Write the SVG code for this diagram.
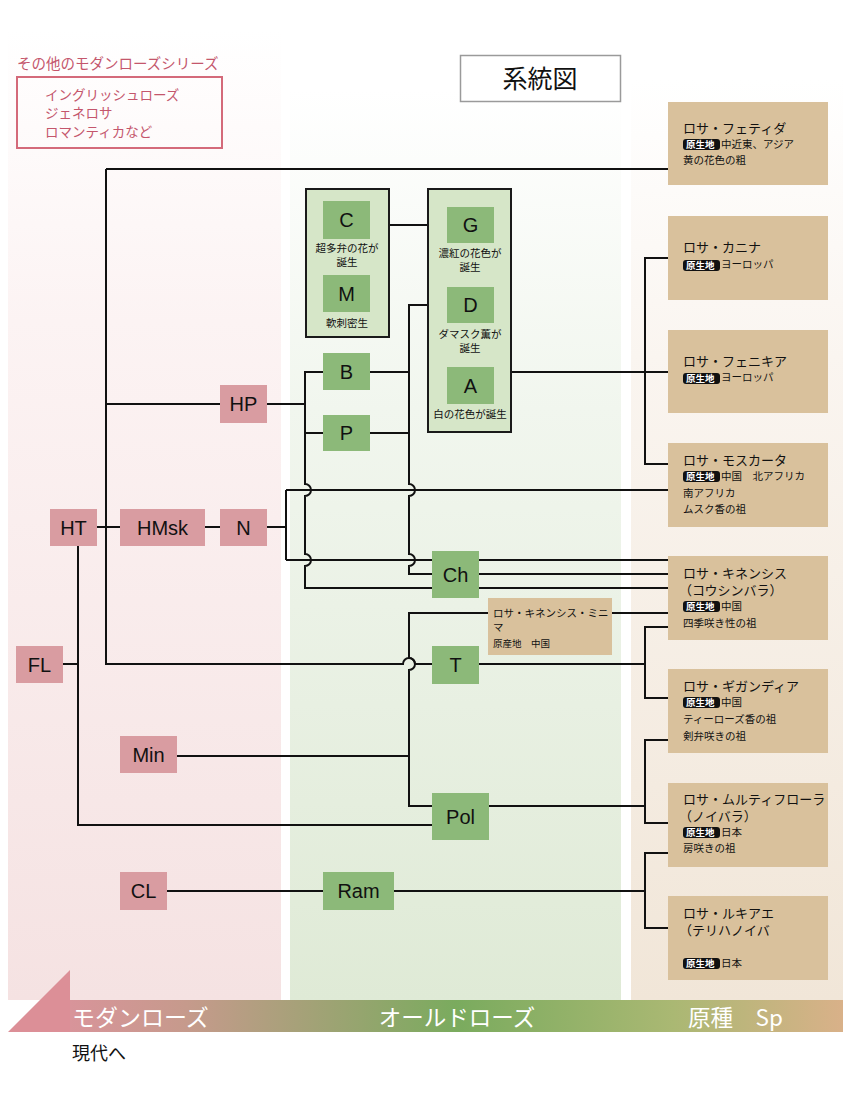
<svg xmlns="http://www.w3.org/2000/svg" width="850" height="1100" viewBox="0 0 850 1100">
<defs>
<linearGradient id="gPink" x1="0" y1="0" x2="0" y2="1"><stop offset="0" stop-color="#ffffff"/><stop offset="0.3" stop-color="#fcf3f3"/><stop offset="1" stop-color="#f5e2e2"/></linearGradient>
<linearGradient id="gGreen" x1="0" y1="0" x2="0" y2="1"><stop offset="0" stop-color="#ffffff"/><stop offset="0.35" stop-color="#f1f6ee"/><stop offset="1" stop-color="#dfead6"/></linearGradient>
<linearGradient id="gBeige" x1="0" y1="0" x2="0" y2="1"><stop offset="0" stop-color="#ffffff"/><stop offset="0.3" stop-color="#faf5f0"/><stop offset="1" stop-color="#f1e6d8"/></linearGradient>
<linearGradient id="gBand" x1="0" y1="0" x2="1" y2="0"><stop offset="0" stop-color="#d8949a"/><stop offset="0.15" stop-color="#c69a8c"/><stop offset="0.5" stop-color="#7aab5e"/><stop offset="0.78" stop-color="#aab873"/><stop offset="1" stop-color="#d9b189"/></linearGradient>
<style>
.t{font-family:"Liberation Sans","Noto Sans CJK JP",sans-serif}
.j{font-family:"Noto Sans CJK JP","Liberation Sans",sans-serif}
.pk{fill:#d99ca1}
.gr{fill:#8cb979}
.grp{fill:#d6e6c8;stroke:#1a1a1a;stroke-width:2}
.tan{fill:#d9c19c}
.lbl{font-size:20px;fill:#111;text-anchor:middle}
.cap{font-size:10.5px;fill:#111;text-anchor:middle}
.ttl{font-size:13px;fill:#111}
.sm{font-size:10.5px;fill:#111}
.badge{fill:#111}
.bt{font-size:9.5px;fill:#fff;font-weight:bold}
.ln{fill:none;stroke:#111;stroke-width:2}
.leg{fill:#c4566c}
</style>
</defs>
<rect width="850" height="1100" fill="#ffffff"/>
<g id="panels">
<rect x="8" y="30" width="273" height="970" fill="url(#gPink)"/>
<rect x="290" y="90" width="331" height="910" fill="url(#gGreen)"/>
<rect x="631" y="80" width="212" height="920" fill="url(#gBeige)"/>
</g>
<g id="legend">
<text class="j leg" x="17" y="69" font-size="14.5">その他のモダンローズシリーズ</text>
<rect x="17" y="77" width="205" height="71" fill="none" stroke="#d46a7a" stroke-width="2"/>
<text class="j leg" x="45" y="100" font-size="13.5">イングリッシュローズ</text>
<text class="j leg" x="45" y="118" font-size="13.5">ジェネロサ</text>
<text class="j leg" x="45" y="137" font-size="13.5">ロマンティカなど</text>
</g>
<g id="title">
<rect x="460.5" y="55.5" width="160" height="46" fill="#fff" stroke="#9a9a9a" stroke-width="1.5"/>
<text class="j" x="540" y="88" font-size="25" text-anchor="middle" fill="#111">系統図</text>
</g>
<g id="connectors" class="ln">
<path d="M106 169 H668"/>
<path d="M106 169 V664 H403 A6 6 0 0 1 415 664 H432"/>
<path d="M106 404 H220"/>
<path d="M97 527 H120"/>
<path d="M205 527 H220"/>
<path d="M267 527 H286"/>
<path d="M286 490 V560"/>
<path d="M286 490 H668"/>
<path d="M286 560 H432"/>
<path d="M479 560 H668"/>
<path d="M479 574 H668"/>
<path d="M479 588 H668"/>
<path d="M267 404 H305"/>
<path d="M323 372 H305 V484 A6 6 0 0 1 305 496 V554 A6 6 0 0 1 305 566 V588 H432"/>
<path d="M305 433 H323"/>
<path d="M447 305 H409 V484 A6 6 0 0 1 409 496 V554 A6 6 0 0 1 409 566 V574 H432"/>
<path d="M370 372 H409"/>
<path d="M370 433 H409"/>
<path d="M389 225 H447"/>
<path d="M511 372 H668"/>
<path d="M668 258 H645 V464 H668"/>
<path d="M63 664 H78"/>
<path d="M78 546 V825 H432"/>
<path d="M668 613 H409 V658 A6 6 0 0 1 409 670 V806 H432"/>
<path d="M177 756 H409"/>
<path d="M479 664 H645"/>
<path d="M668 627 H645 V698 H668"/>
<path d="M668 740 H645 V823 H668"/>
<path d="M489 806 H645"/>
<path d="M167 891 H323"/>
<path d="M394 891 H645"/>
<path d="M668 853 H645 V928 H668"/>
</g>
<g id="group-CM"><rect class="grp" x="306" y="189" width="83" height="148"/>
<text class="j cap" x="347" y="252">超多弁の花が</text><text class="j cap" x="347" y="266">誕生</text>
<text class="j cap" x="347" y="327">軟刺密生</text></g>
<g id="group-GDA"><rect class="grp" x="428" y="189" width="83" height="243"/>
<text class="j cap" x="470" y="257">濃紅の花色が</text><text class="j cap" x="470" y="271">誕生</text>
<text class="j cap" x="470" y="338">ダマスク薫が</text><text class="j cap" x="470" y="352">誕生</text>
<text class="j cap" x="470" y="418">白の花色が誕生</text></g>
<g id="node-C"><rect class="gr" x="323" y="201" width="47" height="38"/><text class="t lbl" x="346.5" y="227">C</text></g>
<g id="node-M"><rect class="gr" x="323" y="275" width="47" height="37"/><text class="t lbl" x="346.5" y="301">M</text></g>
<g id="node-G"><rect class="gr" x="447" y="207" width="47" height="36"/><text class="t lbl" x="470.5" y="232">G</text></g>
<g id="node-D"><rect class="gr" x="447" y="287" width="47" height="36"/><text class="t lbl" x="470.5" y="312">D</text></g>
<g id="node-A"><rect class="gr" x="447" y="367" width="47" height="37"/><text class="t lbl" x="470.5" y="393">A</text></g>
<g id="node-B"><rect class="gr" x="323" y="353" width="47" height="37"/><text class="t lbl" x="346.5" y="379">B</text></g>
<g id="node-P"><rect class="gr" x="323" y="415" width="47" height="36"/><text class="t lbl" x="346.5" y="440">P</text></g>
<g id="node-Ch"><rect class="gr" x="432" y="551" width="47" height="47"/><text class="t lbl" x="455.5" y="582" font-size="22">Ch</text></g>
<g id="node-T"><rect class="gr" x="432" y="646" width="47" height="38"/><text class="t lbl" x="455.5" y="672">T</text></g>
<g id="node-Pol"><rect class="gr" x="432" y="793" width="57" height="47"/><text class="t lbl" x="460.5" y="824" font-size="22">Pol</text></g>
<g id="node-Ram"><rect class="gr" x="323" y="872" width="71" height="38"/><text class="t lbl" x="358.5" y="898">Ram</text></g>
<g id="node-HP"><rect class="pk" x="220" y="385" width="47" height="38"/><text class="t lbl" x="243.5" y="411">HP</text></g>
<g id="node-HT"><rect class="pk" x="50" y="509" width="47" height="37"/><text class="t lbl" x="73.5" y="535">HT</text></g>
<g id="node-HMsk"><rect class="pk" x="120" y="509" width="85" height="37"/><text class="t lbl" x="162.5" y="535">HMsk</text></g>
<g id="node-N"><rect class="pk" x="220" y="509" width="47" height="37"/><text class="t lbl" x="243.5" y="535">N</text></g>
<g id="node-FL"><rect class="pk" x="16" y="646" width="47" height="37"/><text class="t lbl" x="39.5" y="672">FL</text></g>
<g id="node-Min"><rect class="pk" x="120" y="736" width="57" height="37"/><text class="t lbl" x="148.5" y="762">Min</text></g>
<g id="node-CL"><rect class="pk" x="120" y="872" width="47" height="38"/><text class="t lbl" x="143.5" y="898">CL</text></g>
<g id="node-mini"><rect class="tan" x="488" y="598" width="124" height="57"/>
<text class="j" x="493" y="617" font-size="10.5" fill="#111">ロサ・キネンシス・ミニ</text>
<text class="j" x="493" y="631" font-size="10.5" fill="#111">マ</text>
<text class="j" x="493" y="647" font-size="9.5" fill="#111">原産地　中国</text></g>
<g id="sp-fetida"><rect class="tan" x="668" y="102" width="160" height="83"/>
<text class="j ttl" x="683" y="133">ロサ・フェティダ</text>
<rect class="badge" x="683" y="139" width="37" height="11" rx="3"/><text class="j bt" x="686" y="148">原生地</text>
<text class="j sm" x="721" y="148">中近東、アジア</text>
<text class="j sm" x="683" y="164">黄の花色の粗</text></g>
<g id="sp-canina"><rect class="tan" x="668" y="216" width="160" height="84"/>
<text class="j ttl" x="683" y="252">ロサ・カニナ</text>
<rect class="badge" x="683" y="260" width="37" height="11" rx="3"/><text class="j bt" x="686" y="269">原生地</text>
<text class="j sm" x="721" y="268">ヨーロッパ</text></g>
<g id="sp-phoenicea"><rect class="tan" x="668" y="330" width="160" height="83"/>
<text class="j ttl" x="683" y="366">ロサ・フェニキア</text>
<rect class="badge" x="683" y="373" width="37" height="11" rx="3"/><text class="j bt" x="686" y="382">原生地</text>
<text class="j sm" x="721" y="381">ヨーロッパ</text></g>
<g id="sp-moschata"><rect class="tan" x="668" y="443" width="160" height="84"/>
<text class="j ttl" x="683" y="465">ロサ・モスカータ</text>
<rect class="badge" x="683" y="471" width="37" height="11" rx="3"/><text class="j bt" x="686" y="480">原生地</text>
<text class="j sm" x="721" y="480">中国　北アフリカ</text>
<text class="j sm" x="683" y="497">南アフリカ</text>
<text class="j sm" x="683" y="513">ムスク香の祖</text></g>
<g id="sp-chinensis"><rect class="tan" x="668" y="556" width="160" height="84"/>
<text class="j ttl" x="683" y="578">ロサ・キネンシス</text>
<text class="j ttl" x="679" y="595">（コウシンバラ）</text>
<rect class="badge" x="683" y="601" width="37" height="11" rx="3"/><text class="j bt" x="686" y="610">原生地</text>
<text class="j sm" x="721" y="610">中国</text>
<text class="j sm" x="683" y="627">四季咲き性の祖</text></g>
<g id="sp-gigantea"><rect class="tan" x="668" y="669" width="160" height="84"/>
<text class="j ttl" x="683" y="691">ロサ・ギガンディア</text>
<rect class="badge" x="683" y="697" width="37" height="11" rx="3"/><text class="j bt" x="686" y="706">原生地</text>
<text class="j sm" x="721" y="706">中国</text>
<text class="j sm" x="683" y="723">ティーローズ香の祖</text>
<text class="j sm" x="683" y="740">剣弁咲きの祖</text></g>
<g id="sp-multiflora"><rect class="tan" x="668" y="783" width="160" height="84"/>
<text class="j ttl" x="683" y="804">ロサ・ムルティフローラ</text>
<text class="j ttl" x="679" y="821">（ノイバラ）</text>
<rect class="badge" x="683" y="827" width="37" height="11" rx="3"/><text class="j bt" x="686" y="836">原生地</text>
<text class="j sm" x="721" y="836">日本</text>
<text class="j sm" x="683" y="852">房咲きの祖</text></g>
<g id="sp-luciae"><rect class="tan" x="668" y="896" width="160" height="84"/>
<text class="j ttl" x="683" y="918">ロサ・ルキアエ</text>
<text class="j ttl" x="679" y="935">（テリハノイバ</text>
<rect class="badge" x="683" y="958" width="37" height="11" rx="3"/><text class="j bt" x="686" y="967">原生地</text>
<text class="j sm" x="721" y="967">日本</text></g>
<g id="timeline">
<rect x="70" y="1000" width="773" height="32" fill="url(#gBand)"/>
<polygon points="8,1032 70,970 70,1032" fill="#dc8f97"/>
<text class="j" x="72" y="1026" font-size="23" fill="#fff">モダンローズ</text>
<text class="j" x="457" y="1026" font-size="22.5" fill="#fff" text-anchor="middle">オールドローズ</text>
<text class="j" x="688" y="1026" font-size="22.5" fill="#fff">原種　Sp</text>
<text class="j" x="72" y="1060" font-size="18" fill="#111">現代へ</text>
</g>
</svg>
